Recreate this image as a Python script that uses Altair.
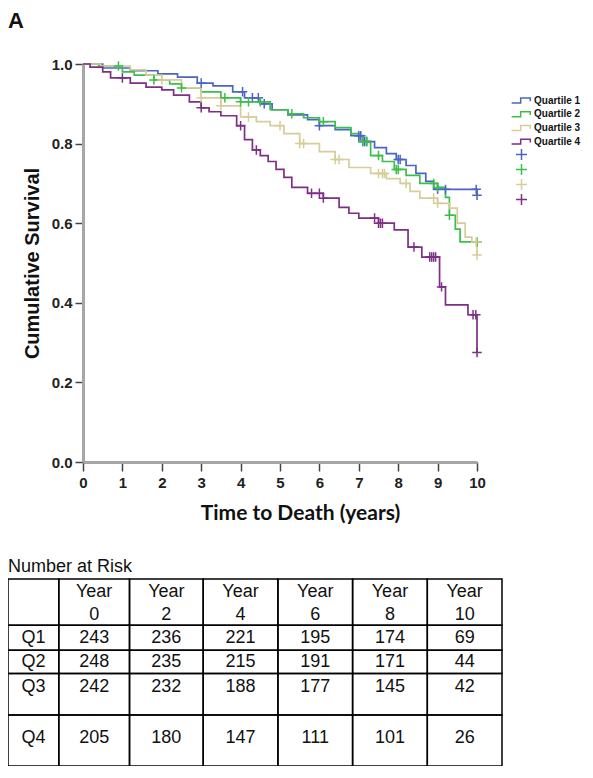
import altair as alt
import pandas as pd

# ---------------- data ----------------
quartiles = ["Quartile 1", "Quartile 2", "Quartile 3", "Quartile 4"]
colors = ["#4b65c4", "#3cbf4a", "#d6cd98", "#7e2f86"]

q1_t = [0, 0.5, 1.2, 1.9, 2.4, 2.9, 3.3, 3.8, 4.1, 4.5, 4.8, 5.2, 5.7, 6.0, 6.4, 6.8, 7.1, 7.4, 7.7, 7.95, 8.2, 8.45, 8.7, 8.9, 10, 10]
q1_s = [1.0, 0.99, 0.983, 0.975, 0.967, 0.952, 0.945, 0.93, 0.915, 0.9, 0.885, 0.872, 0.86, 0.845, 0.835, 0.82, 0.805, 0.79, 0.775, 0.76, 0.745, 0.725, 0.705, 0.685, 0.685, 0.67]

q2_t = [0, 0.4, 1.0, 1.3, 1.8, 2.2, 2.5, 3.0, 3.5, 4.0, 4.75, 5.2, 5.6, 6.0, 6.4, 6.8, 7.0, 7.3, 7.6, 7.9, 8.2, 8.55, 9.0, 9.2, 9.3, 9.45, 9.57, 10]
q2_s = [1.0, 0.995, 0.98, 0.972, 0.96, 0.95, 0.94, 0.93, 0.915, 0.905, 0.885, 0.875, 0.865, 0.855, 0.84, 0.825, 0.805, 0.77, 0.755, 0.735, 0.72, 0.70, 0.69, 0.665, 0.62, 0.585, 0.553, 0.553]

q3_t = [0, 0.45, 1.2, 1.6, 2.0, 2.5, 3.0, 3.5, 4.0, 4.4, 4.75, 5.1, 5.5, 6.0, 6.4, 6.75, 7.3, 7.7, 8.05, 8.3, 8.55, 9.0, 9.3, 9.5, 9.7, 9.87, 10, 10]
q3_s = [1.0, 0.995, 0.985, 0.972, 0.96, 0.94, 0.915, 0.895, 0.867, 0.855, 0.845, 0.825, 0.80, 0.78, 0.76, 0.74, 0.725, 0.712, 0.70, 0.68, 0.663, 0.65, 0.638, 0.60, 0.565, 0.553, 0.553, 0.52]

q4_t = [0, 0.18, 0.5, 0.7, 1.2, 1.6, 2.0, 2.3, 2.7, 3.0, 3.2, 3.5, 3.9, 4.1, 4.3, 4.5, 4.7, 4.9, 5.1, 5.3, 5.7, 6.1, 6.5, 6.75, 7.0, 7.5, 7.9, 8.25, 8.6, 9.05, 9.2, 9.77, 10, 10]
q4_s = [1.0, 0.992, 0.98, 0.965, 0.952, 0.942, 0.935, 0.922, 0.905, 0.89, 0.88, 0.87, 0.845, 0.81, 0.784, 0.77, 0.755, 0.735, 0.715, 0.69, 0.675, 0.663, 0.64, 0.625, 0.613, 0.60, 0.583, 0.54, 0.515, 0.44, 0.395, 0.37, 0.37, 0.275]

# censoring times (+ marks)
q1_c = [3.0, 4.05, 4.3, 4.45, 4.6, 6.0, 7.0, 7.05, 7.1, 7.15, 7.2, 8.0, 8.05, 9.0, 9.2, 9.98, 10.0]
q2_c = [0.9, 1.8, 2.5, 3.6, 4.0, 4.2, 4.5, 5.3, 6.1, 7.1, 7.2, 7.5, 7.95, 8.0, 8.9, 9.0, 9.3, 10.0]
q3_c = [2.0, 3.0, 3.5, 4.2, 5.0, 5.5, 5.6, 6.4, 6.5, 7.5, 7.6, 7.65, 8.2, 8.9, 9.0, 9.98, 10.0]
q4_c = [1.0, 3.0, 4.0, 4.4, 5.8, 6.0, 6.1, 7.4, 7.5, 7.55, 7.6, 8.4, 8.8, 8.85, 8.9, 8.95, 9.1, 9.9, 9.97, 10.0]

# number at risk table
risk_header = ["Year", "Year", "Year", "Year", "Year", "Year"]
risk_years = ["0", "2", "4", "6", "8", "10"]
row_labels = ["Q1", "Q2", "Q3", "Q4"]
risk_q1 = [243, 236, 221, 195, 174, 69]
risk_q2 = [248, 235, 215, 191, 171, 44]
risk_q3 = [242, 232, 188, 177, 145, 42]
risk_q4 = [205, 180, 147, 111, 101, 26]

# table layout (not data)
col_edges = [0, 51, 122, 196, 271, 346, 421, 496]
row_edges = [0, 48, 74, 98, 141, 194]
text_y = [61, 86, 112, 165]

# ---------------- frames ----------------
series = [(quartiles[0], q1_t, q1_s, q1_c), (quartiles[1], q2_t, q2_s, q2_c),
          (quartiles[2], q3_t, q3_s, q3_c), (quartiles[3], q4_t, q4_s, q4_c)]
curve_rows, cens_rows = [], []
for k, (q, ts, ss, cs) in enumerate(series):
    for i, (t, s) in enumerate(zip(ts, ss)):
        curve_rows.append({"Quartile": q, "t": t, "S": s, "i": i})
    for tc in cs:
        idx = max(j for j, t in enumerate(ts) if t <= tc)
        cens_rows.append({"cq": f"c{k+1}", "t": tc, "S": ss[idx]})
curve = pd.DataFrame(curve_rows)
cens = pd.DataFrame(cens_rows)

cells, texts = [], []
for r in range(len(row_edges) - 1):
    for c in range(len(col_edges) - 1):
        cells.append({"x0": col_edges[c], "x1": col_edges[c + 1], "y0": row_edges[r], "y1": row_edges[r + 1]})
risk = [risk_q1, risk_q2, risk_q3, risk_q4]
for c in range(6):
    xc = (col_edges[c + 1] + col_edges[c + 2]) / 2
    texts.append({"x": xc, "y": 13, "txt": risk_header[c]})
    texts.append({"x": xc, "y": 37, "txt": risk_years[c]})
for r in range(4):
    texts.append({"x": (col_edges[0] + col_edges[1]) / 2, "y": text_y[r], "txt": row_labels[r]})
    for c in range(6):
        xc = (col_edges[c + 1] + col_edges[c + 2]) / 2
        texts.append({"x": xc, "y": text_y[r], "txt": str(risk[r][c])})
cells_df = pd.DataFrame(cells)
texts_df = pd.DataFrame(texts)

# ---------------- survival plot ----------------
xscale = alt.Scale(domain=[0, 10], nice=False)
yscale = alt.Scale(domain=[0, 1], nice=False)

x_axis = alt.Axis(values=list(range(11)), format="d", title="Time to Death (years)",
                  titleFont="Lato", titleFontSize=21, titleFontWeight="bold", titleColor="#111",
                  titlePadding=12, titleX=217,
                  labelFont="Liberation Sans", labelFontSize=15, labelFontWeight="bold", labelColor="#222",
                  labelPadding=4, tickSize=9, tickColor="#444", tickWidth=1.5,
                  domainColor="#a6a6a6", domainWidth=3, grid=False, labelFlush=False)
y_axis = alt.Axis(values=[0, 0.2, 0.4, 0.6, 0.8, 1.0], format=".1f", title="Cumulative Survival",
                  titleFont="Liberation Sans", titleFontSize=20, titleFontWeight="bold", titleColor="#111",
                  titlePadding=9,
                  labelFont="Liberation Sans", labelFontSize=15, labelFontWeight="bold", labelColor="#222",
                  labelPadding=3, tickSize=8, tickColor="#444", tickWidth=1.5,
                  domainColor="#a6a6a6", domainWidth=3, grid=False, labelFlush=False)

lines = alt.Chart(curve).mark_line(interpolate="step-after", strokeWidth=1.7).encode(
    x=alt.X("t:Q", scale=xscale, axis=x_axis),
    y=alt.Y("S:Q", scale=yscale, axis=y_axis),
    color=alt.Color("Quartile:N", scale=alt.Scale(domain=quartiles, range=colors),
                    legend=alt.Legend(orient="none", legendX=432, legendY=30, title=None,
                                      symbolType="M-1.8,0.45H-0.15V-0.45H1.6V0.15",
                                      symbolSize=121, symbolStrokeWidth=1.5,
                                      labelFont="Liberation Sans", labelFontWeight="bold",
                                      labelFontSize=10, labelColor="#111", labelOffset=6,
                                      rowPadding=1.7)),
    order=alt.Order("i:Q"),
)

censor = alt.Chart(cens).mark_point(shape="M-1,0H1M0,-1V1", size=90, filled=False,
                                    strokeWidth=1.5, opacity=1).encode(
    x=alt.X("t:Q", scale=xscale, axis=x_axis),
    y=alt.Y("S:Q", scale=yscale, axis=y_axis),
    stroke=alt.Stroke("cq:N", scale=alt.Scale(domain=["c1", "c2", "c3", "c4"], range=colors),
                      legend=alt.Legend(orient="none", legendX=432, legendY=84, title=None,
                                        labelExpr="' '", labelFontSize=9.5,
                                        symbolType="M-1,0H1M0,-1V1",
                                        symbolSize=121, symbolStrokeWidth=1.5, rowPadding=-3.1)),
)

survival = alt.layer(lines, censor)

# ---------------- table ----------------
tx = alt.Scale(domain=[0, 496], range=[-75, 419])
ty = alt.Scale(domain=[0, 194], range=[515, 702])

grid = alt.Chart(cells_df).mark_rect(fill="transparent", stroke="black", strokeWidth=1.5).encode(
    x=alt.X("x0:Q", scale=tx, axis=None), x2="x1:Q",
    y=alt.Y("y0:Q", scale=ty, axis=None), y2="y1:Q",
)
cell_text = alt.Chart(texts_df).mark_text(font="Liberation Sans", fontSize=18, color="#111",
                                          baseline="middle", align="center").encode(
    x=alt.X("x:Q", scale=tx, axis=None),
    y=alt.Y("y:Q", scale=ty, axis=None),
    text="txt:N",
)
table_title = alt.Chart(pd.DataFrame({"x": [0], "y": [-12], "txt": ["Number at Risk"]})).mark_text(
    font="Liberation Sans", fontSize=18, color="#111", baseline="middle", align="left").encode(
    x=alt.X("x:Q", scale=tx, axis=None),
    y=alt.Y("y:Q", scale=ty, axis=None),
    text="txt:N",
)
table = alt.layer(grid, cell_text, table_title)

panel = alt.Chart(pd.DataFrame({"txt": ["A"]})).mark_text(
    font="Liberation Sans", fontSize=22, fontWeight="bold", color="#111",
    align="left", baseline="alphabetic").encode(
    x=alt.value(-75), y=alt.value(-36), text="txt:N")

chart = alt.layer(survival, table, panel).resolve_scale(
    x="independent", y="independent"
).properties(
    width=394, height=398,
    autosize=alt.AutoSizeParams(type="none"),
    padding={"left": 75, "top": 56, "right": 108, "bottom": 304},
).configure_view(stroke=None)

chart.save("out.html", embed_options={"renderer": "svg", "actions": False})
